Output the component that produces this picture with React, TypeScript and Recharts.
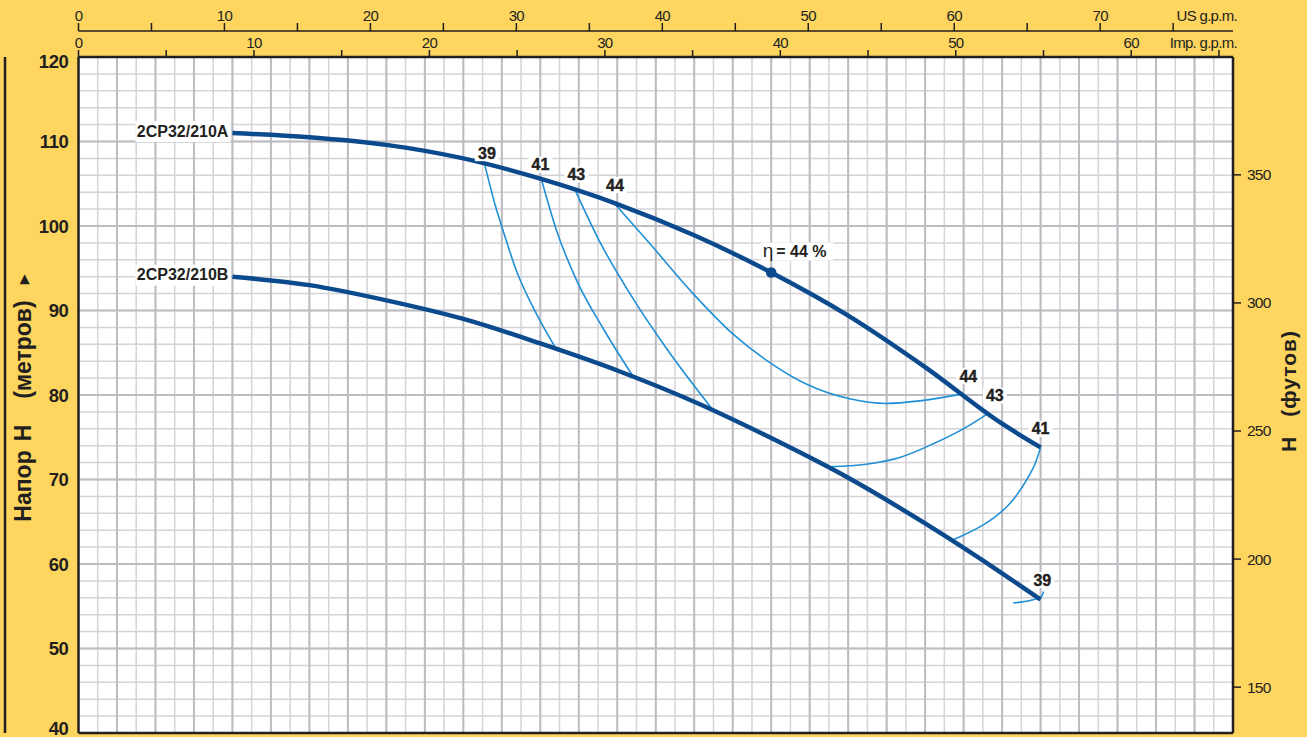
import { CartesianGrid, Line, LineChart, XAxis, YAxis } from "recharts";

const YELLOW = "#fdd55f";
const CURVE = "#0c4a8e";
const ISO = "#1f8fd6";
const INK = "#231f20";
const FONT = "'Liberation Sans', Arial, Helvetica, sans-serif";

// flow in l/min (hidden base axis), head in metres
const flowLpm = [40, 60, 80, 100, 120, 140, 160, 180, 200, 220, 240, 250];
const headA = [111.0, 110.5, 109.6, 108.0, 105.6, 102.6, 98.9, 94.5, 89.4, 83.3, 76.6, 73.8];
const headB = [94.0, 93.0, 91.2, 89.0, 86.1, 82.9, 79.2, 74.9, 70.2, 64.8, 58.9, 55.8];
const pumpNames = ["2CP32/210A", "2CP32/210B"];

const bestFlow = 180;
const bestEfficiency = 44;

// iso-efficiency lines, %
const isoEfficiency = [39, 41, 43, 44, 43, 41, 39];
const iso39aFlow = [105.6, 108.2, 110.3, 113.8, 119.0, 124.2];
const iso39aHead = [107.2, 102.6, 99.5, 94.7, 89.6, 85.4];
const iso41aFlow = [120.3, 124.2, 129.4, 136.3, 144.1];
const iso41aHead = [105.5, 99.5, 93.6, 87.9, 82.2];
const iso43aFlow = [129.1, 135.5, 144.1, 152.8, 164.9];
const iso43aHead = [104.2, 98.1, 91.4, 85.5, 78.2];
const iso44Flow = [139.4, 148.5, 159.7, 170.1, 178.8, 189.1, 200.4, 209.9, 218.6, 229.4];
const iso44Head = [102.6, 97.9, 92.0, 87.2, 84.1, 81.3, 79.55, 79.0, 79.3, 80.1];
const iso43bFlow = [195.2, 204.7, 213.4, 222.0, 230.7, 236.3];
const iso43bHead = [71.5, 71.8, 72.6, 74.2, 76.2, 77.8];
const iso41bFlow = [227.0, 235.0, 241.9, 246.3, 248.6, 250.0];
const iso41bHead = [62.8, 64.6, 67.1, 69.9, 71.9, 73.8];
const iso39bFlow = [242.9, 247.5, 250.2, 250.8];
const iso39bHead = [55.4, 55.7, 56.15, 56.75];

// axis ticks
const headTicksM = [40, 50, 60, 70, 80, 90, 100, 110, 120];
const headTicksFt = [150, 200, 250, 300, 350];
const usGpmTicks = [0, 5, 10, 15, 20, 25, 30, 35, 40, 45, 50, 55, 60, 65, 70, 75];
const impGpmTicks = [0, 5, 10, 15, 20, 25, 30, 35, 40, 45, 50, 55, 60, 65];

// litres per gallon
const US_GAL = 3.785;
const IMP_GAL = 4.546;

// graph paper
const minorFlowGrid = Array.from({ length: 59 }, (_, i) => (i + 1) * 5);
const majorFlowGrid = Array.from({ length: 29 }, (_, i) => (i + 1) * 10);
const minorHeadGrid = Array.from({ length: 39 }, (_, i) => 42 + i * 2);
const majorHeadGrid = [50, 60, 70, 80, 90, 100, 110];

const toPoints = (flow: number[], head: number[]) => flow.map((q, i) => ({ q, h: head[i] }));

const isoData = [
  toPoints(iso39aFlow, iso39aHead),
  toPoints(iso41aFlow, iso41aHead),
  toPoints(iso43aFlow, iso43aHead),
  toPoints(iso44Flow, iso44Head),
  toPoints(iso43bFlow, iso43bHead),
  toPoints(iso41bFlow, iso41bHead),
  toPoints(iso39bFlow, iso39bHead)
];

// how each iso line is drawn and where it carries its % label (point index + offset in px)
const isoCurve = ["monotone", "monotone", "monotone", "monotone", "monotone", "natural", "monotone"] as const;
const isoLabelSpots = [
  [{ i: 0, dx: 2, dy: -12 }],
  [{ i: 0, dx: -1, dy: -15 }],
  [{ i: 0, dx: 1, dy: -16 }],
  [{ i: 0, dx: 0, dy: -19 }, { i: 9, dx: 7, dy: -18 }],
  [{ i: 5, dx: 7, dy: -18 }],
  [{ i: 5, dx: 0, dy: -18.5 }],
  [{ i: 2, dx: 1, dy: -16.5 }]
];

const dataA = toPoints(flowLpm, headA);
const dataB = toPoints(flowLpm, headB);

const NoTick = () => <g />;

function TopTick(props: any) {
  const { x, y, payload } = props;
  if (payload.value % 10 !== 0) return <g />;
  return (
    <text x={x} y={y} textAnchor="middle" fontFamily={FONT} fontSize={15} letterSpacing={-0.7} fill={INK}>
      {payload.value}
    </text>
  );
}

function MetreTick(props: any) {
  const { x, y, payload } = props;
  const nudge = payload.value === 120 ? 4.5 : payload.value === 40 ? -5 : 0;
  return (
    <text x={x} y={y + nudge + 6.5} textAnchor="end" fontFamily={FONT} fontSize={18.5} fontWeight="bold" letterSpacing={-0.4} fill={INK}>
      {payload.value}
    </text>
  );
}

function FeetTick(props: any) {
  const { x, y, payload } = props;
  return (
    <text x={x} y={y + 5.5} textAnchor="start" fontFamily={FONT} fontSize={15.5} letterSpacing={-0.8} fill={INK}>
      {payload.value}
    </text>
  );
}

function UnitTitle(props: any) {
  const { viewBox, text, lift } = props;
  return (
    <text
      x={viewBox.x + viewBox.width + 4}
      y={viewBox.y + viewBox.height - lift}
      textAnchor="end"
      fontFamily={FONT}
      fontSize={15}
      letterSpacing={-0.7}
      fill={INK}
    >
      {text}
    </text>
  );
}

function MetreTitle(props: any) {
  const { viewBox } = props;
  const cx = viewBox.x + 18;
  const cy = viewBox.y + viewBox.height / 2 + 3;
  return (
    <text
      x={cx}
      y={cy}
      transform={`rotate(-90 ${cx} ${cy})`}
      textAnchor="middle"
      dominantBaseline="central"
      fontFamily={FONT}
      fontSize={23}
      fontWeight="bold"
      fill={INK}
    >
      <tspan>Напор</tspan>
      <tspan dx={9}>H</tspan>
      <tspan dx={26}>(метров)</tspan>
      <tspan dx={16} fontSize={13} fontFamily="'DejaVu Sans', sans-serif">▶</tspan>
    </text>
  );
}

function FeetTitle(props: any) {
  const { viewBox } = props;
  const cx = viewBox.x + 55;
  const cy = viewBox.y + viewBox.height / 2 - 4;
  return (
    <text
      x={cx}
      y={cy}
      transform={`rotate(-90 ${cx} ${cy})`}
      textAnchor="middle"
      dominantBaseline="central"
      fontFamily={FONT}
      fontSize={21}
      fontWeight="bold"
      fill={INK}
    >
      <tspan>H</tspan>
      <tspan dx={20} letterSpacing={1}>(футов)</tspan>
    </text>
  );
}

function PumpName({ cx, cy, name }: { cx: number; cy: number; name: string }) {
  return (
    <g>
      <rect x={cx - 97} y={cy - 12} width={95} height={21} fill="#fff" />
      <text x={cx - 4} y={cy + 3.5} textAnchor="end" fontFamily={FONT} fontSize={16} fontWeight="bold" fill={INK}>
        {name}
      </text>
    </g>
  );
}

function EffTag({ cx, cy, text }: { cx: number; cy: number; text: string }) {
  return (
    <g>
      <rect x={cx - 12} y={cy - 8} width={24} height={16} fill="#fff" />
      <text
        x={cx}
        y={cy + 5.6}
        textAnchor="middle"
        fontFamily={FONT}
        fontSize={16}
        fontWeight="bold"
        fill={INK}
        stroke={INK}
        strokeWidth={0.4}
      >
        {text}
      </text>
    </g>
  );
}

function BestPoint({ cx, cy }: { cx: number; cy: number }) {
  return (
    <g>
      <rect x={cx - 10} y={cy - 30} width={72} height={18} fill="#fff" />
      <text x={cx - 8.5} y={cy - 15.5} fontFamily={FONT} fill={INK}>
        <tspan fontSize={19}>η</tspan>
        <tspan dx={3} fontSize={16} fontWeight="bold">{`= ${bestEfficiency} %`}</tspan>
      </text>
      <circle cx={cx} cy={cy} r={5.3} fill={CURVE} />
    </g>
  );
}

const pumpDot = (name: string, withBest: boolean) => (p: any) => {
  const key = `pd-${name}-${p.index}`;
  if (p.index === 0) {
    return (
      <g key={key}>
        <PumpName cx={p.cx} cy={p.cy} name={name} />
      </g>
    );
  }
  if (withBest && p.payload && p.payload.q === bestFlow) {
    return (
      <g key={key}>
        <BestPoint cx={p.cx} cy={p.cy} />
      </g>
    );
  }
  return <g key={key} />;
};

const isoDot = (k: number) => (p: any) => {
  const spot = isoLabelSpots[k].find((s) => s.i === p.index);
  const key = `iso-${k}-${p.index}`;
  if (!spot) return <g key={key} />;
  return (
    <g key={key}>
      <EffTag cx={p.cx + spot.dx} cy={p.cy + spot.dy} text={String(isoEfficiency[k])} />
    </g>
  );
};

export default function App() {
  return (
    <div style={{ position: "absolute", left: 0, top: 0, width: 1307, height: 737, background: YELLOW, fontFamily: FONT }}>
      <LineChart data={dataA} width={1307} height={737} margin={{ top: 0, right: 0, bottom: 0, left: 0 }}>
        <CartesianGrid
          verticalValues={minorFlowGrid}
          horizontalValues={minorHeadGrid}
          stroke="#d4d4d7"
          strokeWidth={1.5}
          fill="#fff"
          fillOpacity={1}
        />
        <CartesianGrid
          verticalValues={majorFlowGrid}
          horizontalValues={majorHeadGrid}
          stroke="#bcbcc1"
          strokeWidth={2}
        />

        <XAxis
          dataKey="q"
          type="number"
          domain={[0, 300]}
          allowDataOverflow
          interval={0}
          height={4}
          tick={<NoTick />}
          tickLine={false}
          axisLine={{ stroke: INK, strokeWidth: 2.5 }}
        />
        <XAxis
          xAxisId="imp"
          orientation="top"
          dataKey={(d: any) => d.q / IMP_GAL}
          type="number"
          domain={[0, 65.8]}
          allowDataOverflow
          ticks={impGpmTicks}
          interval={0}
          height={26}
          tickSize={7}
          tickMargin={2}
          tick={<TopTick />}
          tickLine={{ stroke: INK, strokeWidth: 1.5 }}
          axisLine={{ stroke: INK, strokeWidth: 2.5 }}
          label={<UnitTitle text="Imp. g.p.m." lift={9} />}
        />
        <XAxis
          xAxisId="us"
          orientation="top"
          dataKey={(d: any) => d.q / US_GAL}
          type="number"
          domain={[0, 79.1]}
          allowDataOverflow
          ticks={usGpmTicks}
          interval={0}
          height={31}
          tickSize={8}
          tickMargin={2}
          tick={<TopTick />}
          tickLine={{ stroke: INK, strokeWidth: 1.5 }}
          axisLine={{ stroke: INK, strokeWidth: 1.5 }}
          label={<UnitTitle text="US g.p.m." lift={10} />}
        />

        <YAxis
          type="number"
          domain={[40, 120]}
          allowDataOverflow
          ticks={headTicksM}
          interval={0}
          width={73.5}
          tickSize={0}
          tickMargin={10}
          tick={<MetreTick />}
          tickLine={false}
          axisLine={{ stroke: INK, strokeWidth: 2.5 }}
          label={<MetreTitle />}
        />
        <YAxis
          yAxisId="rule"
          type="number"
          domain={[40, 120]}
          allowDataOverflow
          width={5}
          tick={false}
          tickLine={false}
          axisLine={{ stroke: INK, strokeWidth: 2.5 }}
        />
        <YAxis
          yAxisId="ft"
          orientation="right"
          type="number"
          domain={[132.1, 396]}
          allowDataOverflow
          ticks={headTicksFt}
          interval={0}
          width={74}
          tickSize={8}
          tickMargin={6}
          tick={<FeetTick />}
          tickLine={{ stroke: INK, strokeWidth: 1.5 }}
          axisLine={{ stroke: INK, strokeWidth: 2.5 }}
          label={<FeetTitle />}
        />

        {isoData.map((d, k) => (
          <Line
            key={`iso-${k}`}
            data={d}
            dataKey="h"
            type={isoCurve[k]}
            stroke={ISO}
            strokeWidth={1.6}
            dot={isoDot(k)}
            activeDot={false}
            isAnimationActive={false}
          />
        ))}

        <Line
          data={dataA}
          dataKey="h"
          type="monotone"
          stroke={CURVE}
          strokeWidth={4.5}
          dot={pumpDot(pumpNames[0], true)}
          activeDot={false}
          isAnimationActive={false}
        />
        <Line
          data={dataB}
          dataKey="h"
          type="monotone"
          stroke={CURVE}
          strokeWidth={4.5}
          dot={pumpDot(pumpNames[1], false)}
          activeDot={false}
          isAnimationActive={false}
        />
      </LineChart>
    </div>
  );
}
